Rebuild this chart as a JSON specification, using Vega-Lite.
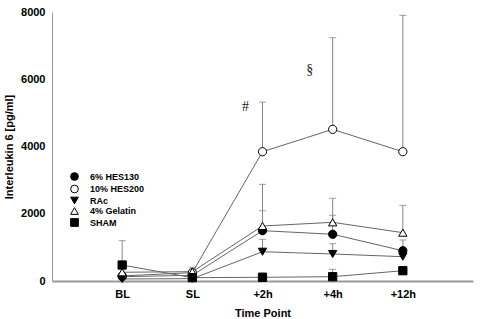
{
  "$schema": "https://vega.github.io/schema/vega-lite/v6.json",
  "width": 421,
  "height": 269,
  "autosize": {"type": "none"},
  "padding": {"left": 52, "top": 12, "right": 9, "bottom": 38},
  "background": "white",
  "config": {
    "view": {"stroke": null},
    "font": "Liberation Sans",
    "axis": {"labelFont": "Liberation Sans", "titleFont": "Liberation Sans", "labelFontWeight": "bold", "titleFontWeight": "bold", "labelColor": "black", "titleColor": "black", "labelFontSize": 11, "titleFontSize": 11, "grid": false}
  },
  "datasets": {
    "il6": [
      {"time": "BL", "series": "6% HES130", "value": 128, "upper": null},
      {"time": "BL", "series": "10% HES200", "value": 150, "upper": null},
      {"time": "BL", "series": "RAc", "value": 60, "upper": null},
      {"time": "BL", "series": "4% Gelatin", "value": 260, "upper": null},
      {"time": "BL", "series": "SHAM", "value": 475, "upper": 1200},
      {"time": "SL", "series": "6% HES130", "value": 170, "upper": null},
      {"time": "SL", "series": "10% HES200", "value": 250, "upper": 407},
      {"time": "SL", "series": "RAc", "value": 70, "upper": null},
      {"time": "SL", "series": "4% Gelatin", "value": 277, "upper": 327},
      {"time": "SL", "series": "SHAM", "value": 100, "upper": null},
      {"time": "+2h", "series": "6% HES130", "value": 1497, "upper": 2090},
      {"time": "+2h", "series": "10% HES200", "value": 3845, "upper": 5320},
      {"time": "+2h", "series": "RAc", "value": 870, "upper": 1240},
      {"time": "+2h", "series": "4% Gelatin", "value": 1636, "upper": 2875},
      {"time": "+2h", "series": "SHAM", "value": 110, "upper": 238},
      {"time": "+4h", "series": "6% HES130", "value": 1390, "upper": 1955},
      {"time": "+4h", "series": "10% HES200", "value": 4510, "upper": 7235},
      {"time": "+4h", "series": "RAc", "value": 803, "upper": 1110},
      {"time": "+4h", "series": "4% Gelatin", "value": 1745, "upper": 2460},
      {"time": "+4h", "series": "SHAM", "value": 128, "upper": 348},
      {"time": "+12h", "series": "6% HES130", "value": 900, "upper": 1220},
      {"time": "+12h", "series": "10% HES200", "value": 3845, "upper": 7900},
      {"time": "+12h", "series": "RAc", "value": 723, "upper": null},
      {"time": "+12h", "series": "4% Gelatin", "value": 1437, "upper": 2250},
      {"time": "+12h", "series": "SHAM", "value": 306, "upper": null}
    ],
    "marks": [
      {"time": "+2h", "value": 5175, "label": "#"},
      {"time": "+4h", "value": 6275, "label": "§"}
    ]
  },
  "data": {"name": "il6"},
  "encoding": {
    "x": {
      "field": "time", "type": "ordinal",
      "sort": ["BL", "SL", "+2h", "+4h", "+12h"],
      "scale": {"type": "point", "padding": 1, "domain": ["BL", "SL", "+2h", "+4h", "+12h"]},
      "axis": {"title": "Time Point", "labelAngle": 0, "ticks": false, "domainColor": "#999999", "domainWidth": 2, "labelPadding": 7, "titlePadding": 8}
    }
  },
  "layer": [
    {
      "transform": [{"filter": "datum.upper != null"}],
      "mark": {"type": "rule", "color": "#888888", "strokeWidth": 1},
      "encoding": {
        "y": {"field": "value", "type": "quantitative"},
        "y2": {"field": "upper"}
      }
    },
    {
      "transform": [{"filter": "datum.upper != null"}],
      "mark": {"type": "tick", "color": "#777777", "size": 7, "thickness": 1, "orient": "horizontal"},
      "encoding": {
        "y": {"field": "upper", "type": "quantitative"}
      }
    },
    {
      "mark": {"type": "line", "color": "#666666", "strokeWidth": 1},
      "encoding": {
        "y": {"field": "value", "type": "quantitative"},
        "detail": {"field": "series"}
      }
    },
    {
      "mark": {"type": "point", "strokeWidth": 1, "opacity": 1, "size": 68},
      "encoding": {
        "y": {
          "field": "value", "type": "quantitative",
          "scale": {"domain": [0, 8000], "nice": false},
          "axis": {"title": "Interleukin 6 [pg/ml]", "values": [0, 2000, 4000, 6000, 8000], "format": "d", "ticks": false, "domainColor": "#999999", "labelPadding": 7, "titlePadding": 6}
        },
        "shape": {
          "field": "series", "type": "nominal",
          "scale": {"domain": ["6% HES130", "10% HES200", "RAc", "4% Gelatin", "SHAM"], "range": ["circle", "circle", "triangle-down", "triangle-up", "square"]},
          "legend": {
            "title": null, "orient": "none", "legendX": 18, "legendY": 160,
            "labelFont": "Liberation Sans", "labelFontWeight": "bold", "labelFontSize": 9, "labelColor": "black",
            "symbolSize": 60, "symbolStrokeWidth": 1,
            "rowPadding": -0.5, "labelOffset": 11, "padding": 0
          }
        },
        "fill": {
          "field": "series", "type": "nominal",
          "scale": {"domain": ["6% HES130", "10% HES200", "RAc", "4% Gelatin", "SHAM"], "range": ["black", "white", "black", "white", "black"]}
        },
        "stroke": {
          "field": "series", "type": "nominal",
          "scale": {"domain": ["6% HES130", "10% HES200", "RAc", "4% Gelatin", "SHAM"], "range": ["black", "black", "black", "black", "black"]}
        }
      }
    },
    {
      "data": {"name": "marks"},
      "transform": [{"filter": "datum.label == '#'"}],
      "mark": {"type": "text", "font": "Liberation Serif", "fontSize": 14, "color": "#222222", "dx": -17},
      "encoding": {
        "y": {"field": "value", "type": "quantitative"},
        "text": {"field": "label"}
      }
    },
    {
      "data": {"name": "marks"},
      "transform": [{"filter": "datum.label != '#'"}],
      "mark": {"type": "text", "font": "Liberation Serif", "fontSize": 14, "color": "#222222", "dx": -23},
      "encoding": {
        "y": {"field": "value", "type": "quantitative"},
        "text": {"field": "label"}
      }
    }
  ]
}
